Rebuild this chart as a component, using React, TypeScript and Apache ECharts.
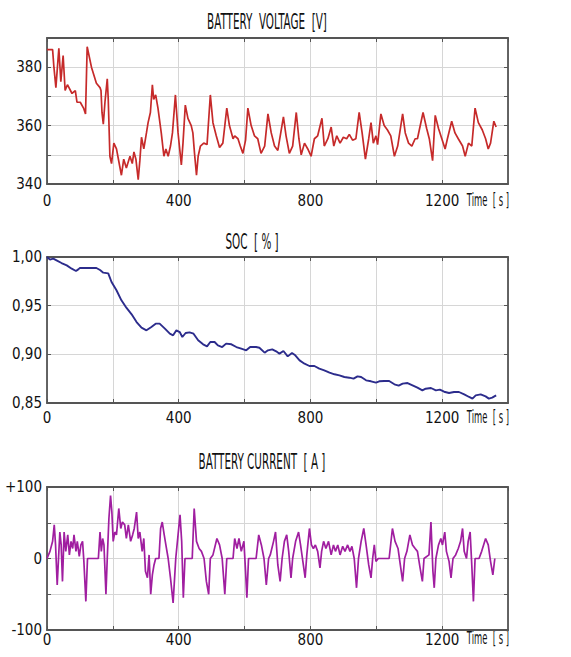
import React, { useEffect, useRef } from "react";
import * as echarts from "echarts";

// ---------- data ----------
const TIME_V = [0, 17, 21, 27, 36, 42, 49, 55, 62, 76, 86, 91, 101, 111, 117, 122, 135, 150, 161, 164, 167, 171, 176, 183, 186, 191, 196, 203, 211, 221, 226, 233, 241, 252, 259, 264, 270, 277, 282, 287, 294, 302, 307, 314, 320, 324, 330, 337, 347, 355, 361, 368, 375, 381, 390, 398, 408, 413, 420, 428, 438, 443, 448, 454, 459, 466, 476, 486, 496, 504, 514, 524, 534, 546, 554, 565, 570, 580, 587, 595, 603, 610, 620, 630, 640, 650, 661, 671, 681, 691, 701, 718, 726, 736, 746, 757, 765, 772, 782, 792, 802, 812, 822, 835, 842, 853, 863, 871, 880, 890, 900, 910, 918, 928, 938, 948, 957, 967, 977, 984, 991, 999, 1004, 1014, 1024, 1034, 1044, 1055, 1065, 1080, 1088, 1098, 1108, 1118, 1125, 1142, 1153, 1161, 1171, 1179, 1189, 1199, 1209, 1216, 1229, 1239, 1249, 1262, 1270, 1280, 1290, 1300, 1310, 1322, 1332, 1340, 1347, 1357, 1364];
const VOLTAGE = [386, 386, 380, 373, 386.5, 375, 384, 372, 374, 371, 372, 368, 368, 366, 364, 387, 380, 374.5, 373, 372, 364.5, 360.5, 368, 376, 369, 349.5, 347, 354, 352, 346, 343, 348.5, 345.5, 349.5, 347, 351, 348.5, 341.5, 348, 356, 352, 357.5, 361, 364.5, 374, 369, 370.5, 366, 357.5, 349.5, 352, 349.5, 353, 357.5, 370.5, 357.5, 346.5, 354, 367, 362.5, 360, 357.5, 350.5, 343, 349.5, 353, 354, 353.5, 370.5, 361, 356.5, 352.5, 354, 366, 360, 355.5, 356.5, 355.5, 353, 350.5, 355, 366, 360, 356.5, 355.5, 350.5, 353, 364, 357.5, 353, 351.5, 363, 356.5, 350.5, 353, 364.5, 355.5, 350, 354, 352, 349.5, 355.5, 356.5, 362.5, 353, 355.5, 359.5, 353, 356.5, 354, 356, 355.5, 357, 355, 355.5, 364.5, 357.5, 348.5, 355.5, 361, 354, 356.5, 353.5, 364, 360, 358.5, 356.5, 349.5, 353, 364, 357.5, 354, 353, 355.5, 355.5, 364.5, 359, 355.5, 348, 363.5, 359, 355.5, 352, 355.5, 361.5, 357.5, 355.5, 353, 349.5, 354, 353, 366, 361, 358.5, 355.5, 352, 354, 361.5, 359.5];

const TIME_S = [0, 9, 19, 29, 44, 60, 75, 88, 95, 100, 120, 150, 161, 171, 186, 196, 211, 226, 241, 257, 272, 287, 302, 317, 330, 342, 358, 373, 383, 393, 403, 411, 421, 433, 445, 459, 474, 486, 496, 509, 519, 532, 544, 560, 575, 590, 605, 617, 635, 645, 661, 671, 684, 696, 706, 718, 731, 744, 754, 767, 782, 797, 812, 827, 842, 858, 873, 888, 903, 918, 931, 943, 954, 969, 984, 999, 1009, 1024, 1039, 1055, 1068, 1080, 1095, 1110, 1125, 1140, 1150, 1166, 1181, 1193, 1206, 1221, 1236, 1251, 1267, 1282, 1292, 1302, 1317, 1332, 1342, 1352, 1364];
const SOC = [1.0, 0.9973, 0.9983, 0.9966, 0.9938, 0.9914, 0.988, 0.9856, 0.9873, 0.9887, 0.9887, 0.9887, 0.9866, 0.9839, 0.9832, 0.9743, 0.9658, 0.9555, 0.9479, 0.9411, 0.9332, 0.9274, 0.9247, 0.9281, 0.9315, 0.9315, 0.9264, 0.9212, 0.9195, 0.9247, 0.9229, 0.9178, 0.9219, 0.9226, 0.9212, 0.9144, 0.9103, 0.9082, 0.9127, 0.9127, 0.9092, 0.9075, 0.911, 0.9103, 0.9075, 0.9058, 0.9041, 0.9075, 0.9075, 0.9068, 0.9017, 0.9041, 0.9051, 0.9031, 0.9007, 0.9034, 0.8979, 0.9014, 0.899, 0.8938, 0.8904, 0.888, 0.888, 0.8853, 0.8836, 0.8812, 0.8795, 0.8784, 0.8767, 0.876, 0.875, 0.8774, 0.8767, 0.8733, 0.8723, 0.8709, 0.8723, 0.8726, 0.8726, 0.8692, 0.8678, 0.8699, 0.8705, 0.8682, 0.8658, 0.863, 0.8647, 0.8654, 0.863, 0.8637, 0.8616, 0.8603, 0.8613, 0.8613, 0.8589, 0.8562, 0.8545, 0.8579, 0.8589, 0.8568, 0.8545, 0.8555, 0.8579];

const TIME_I = [0, 9, 17, 22, 26, 31, 35, 39, 43, 47, 52, 57, 63, 68, 73, 78, 82, 88, 92, 98, 103, 108, 112, 118, 123, 156, 161, 165, 169, 173, 179, 183, 188, 193, 197, 201, 206, 211, 218, 224, 229, 236, 241, 247, 254, 260, 265, 272, 277, 282, 289, 294, 299, 305, 310, 315, 320, 325, 330, 340, 345, 350, 356, 361, 368, 375, 383, 391, 398, 404, 409, 414, 419, 441, 447, 454, 462, 469, 477, 484, 491, 496, 504, 516, 524, 532, 540, 546, 565, 570, 577, 583, 590, 598, 603, 607, 612, 635, 643, 651, 659, 666, 673, 678, 688, 694, 701, 708, 714, 721, 728, 734, 741, 746, 755, 764, 770, 777, 784, 789, 797, 803, 809, 815, 822, 829, 834, 840, 847, 855, 863, 870, 876, 883, 890, 898, 905, 913, 920, 926, 933, 940, 946, 954, 962, 969, 977, 984, 989, 994, 999, 1006, 1039, 1049, 1057, 1066, 1073, 1080, 1086, 1093, 1102, 1110, 1118, 1125, 1133, 1140, 1145, 1160, 1166, 1172, 1176, 1181, 1189, 1196, 1201, 1208, 1213, 1221, 1227, 1233, 1241, 1249, 1256, 1262, 1267, 1274, 1279, 1285, 1290, 1295, 1300, 1312, 1320, 1332, 1340, 1347, 1354, 1360];
const CURRENT = [0, 10, 24, 47, 19, -37, 0, 37, 19, -32, 37, 10, 33, 5, 24, 14, 33, 10, 24, 3, 19, 24, -4, -60, 0, 0, 37, 10, 28, 19, -50, 0, 56, 88, 65, 24, 37, 33, 70, 42, 51, 47, 28, 47, 24, 33, 42, 65, 28, 37, 10, 28, -18, -27, 5, -50, -23, -9, 0, 0, 42, 51, 33, 19, 0, -27, -62, 0, 33, 61, 24, -55, 0, 0, 70, 24, 14, 10, 0, -32, -50, 0, 5, 28, 19, 0, -50, 0, 0, 28, 14, 28, 10, 24, -18, -55, 0, 0, 33, 19, 0, -37, 0, 5, 24, 37, -9, -32, 0, 24, 33, 10, -27, 0, 24, 37, 19, -4, -27, 5, 42, 19, 14, 19, 10, -13, 10, 24, 14, 24, 5, 19, 10, 19, 5, 17, 10, 19, 10, 17, 0, -41, 0, 24, 42, 19, -9, -27, 0, 19, -4, 0, 0, 42, 24, 14, -9, -32, 0, 10, 33, 19, 14, 10, -13, -32, 0, 5, 51, -18, -41, 0, 19, 28, 19, 37, 10, -4, -27, 0, 5, 14, 24, 42, 10, 0, 24, 37, -9, -60, 0, 0, 10, 28, 19, -4, -23, 0];

const X_LABELS = [0, 400, 800, 1200];
const V_LABELS = [340, 360, 380];
const SOC_LABELS = [0.85, 0.9, 0.95, 1.0];
const I_LABELS = [-100, 0, 100];

const TITLES = ["BATTERY  VOLTAGE  [V]", "SOC  [ % ]", "BATTERY CURRENT  [ A ]"];
const X_NAME = "Time  [ s ]";

// ---------- layout ----------
const FONT = "'Liberation Sans Narrow', 'DejaVu Sans Condensed', 'Roboto Condensed', 'Liberation Sans', Arial, sans-serif";
const GRIDS = [
  { left: 47, top: 38, width: 461, height: 146 },
  { left: 47, top: 257, width: 461, height: 146 },
  { left: 47, top: 487, width: 461, height: 143 },
];
const LABEL_MARGIN = [9, 7, 2];
const TITLE_POS = [[267, 22], [252, 242], [262, 462]];

const BOX = "#555555";
const GRIDLINE = "#d6d6d6";

export default function App() {
  const ref = useRef<HTMLDivElement>(null);
  useEffect(() => {
    document.body.style.margin = "0";
    if (!ref.current) return;
    const chart = echarts.init(ref.current, undefined, { renderer: "svg" });

    const xAxes: any[] = [];
    const yAxes: any[] = [];
    GRIDS.forEach((_, i) => {
      xAxes.push({
        type: "value", gridIndex: i, min: 0, max: 1400, interval: 200, position: "bottom",
        axisLine: { show: true, onZero: false, lineStyle: { color: BOX, width: 1.8 } },
        axisTick: { show: true, inside: true, length: 4, lineStyle: { color: BOX } },
        splitLine: { show: true, lineStyle: { color: GRIDLINE, width: 1 } },
        axisLabel: {
          show: true, margin: LABEL_MARGIN[i], color: "#111", fontSize: 15, fontFamily: FONT,
          showMaxLabel: false,
          formatter: (v: number) => (X_LABELS.includes(v) ? String(v) : ""),
        },
      });
      xAxes.push({
        type: "value", gridIndex: i, min: 0, max: 1400, interval: 200, position: "top",
        axisLine: { show: true, onZero: false, lineStyle: { color: BOX, width: 1.8 } },
        axisTick: { show: true, inside: true, length: 4, lineStyle: { color: BOX } },
        splitLine: { show: false }, axisLabel: { show: false },
      });
    });

    const yCfg = [
      { min: 340, max: 390, interval: 10, labels: V_LABELS, fmt: (v: number) => String(v) },
      { min: 0.85, max: 1.0, interval: 0.05, labels: SOC_LABELS, fmt: (v: number) => v.toFixed(2).replace(".", ",") },
      { min: -100, max: 100, interval: 50, labels: I_LABELS, fmt: (v: number) => (v > 0 ? "+" + v : String(v)) },
    ];
    yCfg.forEach((c, i) => {
      yAxes.push({
        type: "value", gridIndex: i, min: c.min, max: c.max, interval: c.interval, position: "left",
        axisLine: { show: true, onZero: false, lineStyle: { color: BOX, width: 1.8 } },
        axisTick: { show: true, inside: true, length: 4, lineStyle: { color: BOX } },
        splitLine: { show: true, lineStyle: { color: GRIDLINE, width: 1 } },
        axisLabel: {
          show: true, margin: 5, color: "#111", fontSize: 15, fontFamily: FONT,
          formatter: (v: number) => (c.labels.some((l) => Math.abs(l - v) < 1e-6) ? c.fmt(v) : ""),
        },
      });
      yAxes.push({
        type: "value", gridIndex: i, min: c.min, max: c.max, interval: c.interval, position: "right",
        axisLine: { show: true, onZero: false, lineStyle: { color: BOX, width: 1.8 } },
        axisTick: { show: true, inside: true, length: 4, lineStyle: { color: BOX } },
        splitLine: { show: false }, axisLabel: { show: false },
      });
    });

    const pair = (ts: number[], vs: number[]) => ts.map((t, k) => [t, vs[k]]);

    const graphic: any[] = TITLES.map((t, i) => ({
      type: "text", x: TITLE_POS[i][0], y: TITLE_POS[i][1], scaleX: 0.55,
      style: { text: t, fontSize: 21, fontFamily: FONT, fill: "#111", align: "center", verticalAlign: "middle" },
    }));
    [200, 417, 638].forEach((y) => {
      graphic.push({
        type: "text", x: 509, y, scaleX: 0.52,
        style: { text: X_NAME, fontSize: 18, fontFamily: FONT, fill: "#111", align: "right", verticalAlign: "middle" },
      });
    });

    chart.setOption({
      animation: false,
      backgroundColor: "#ffffff",
      grid: GRIDS.map((g) => ({ ...g, containLabel: false })),
      xAxis: xAxes,
      yAxis: yAxes,
      graphic,
      series: [
        { type: "line", xAxisIndex: 0, yAxisIndex: 0, data: pair(TIME_V, VOLTAGE), showSymbol: false, lineStyle: { color: "#c62a2a", width: 1.7 } },
        { type: "line", xAxisIndex: 2, yAxisIndex: 2, data: pair(TIME_S, SOC), showSymbol: false, lineStyle: { color: "#2c2c8c", width: 1.9 } },
        { type: "line", xAxisIndex: 4, yAxisIndex: 4, data: pair(TIME_I, CURRENT), showSymbol: false, lineStyle: { color: "#a01ea0", width: 1.7 } },
      ],
    });
    return () => chart.dispose();
  }, []);
  return <div ref={ref} style={{ width: 571, height: 657 }} />;
}
